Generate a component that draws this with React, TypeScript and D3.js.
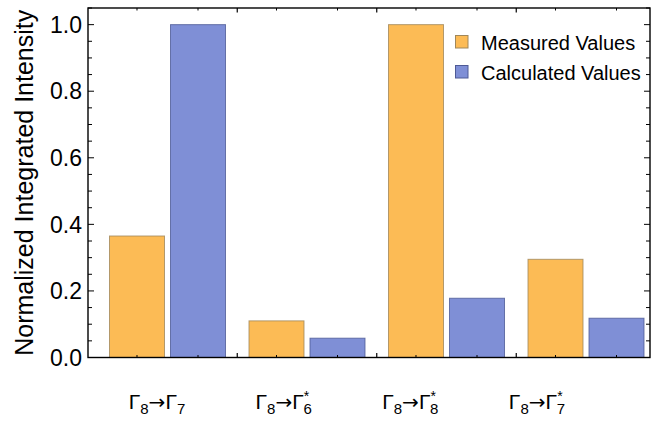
import React from "react";
import * as d3 from "d3";

const categories = ["G1", "G2", "G3", "G4"];
const fromSub = ["8", "8", "8", "8"];
const toSub = ["7", "6", "8", "7"];
const toStar = [false, true, true, true];
const seriesNames = ["Measured Values", "Calculated Values"];
const measured = [0.365, 0.11, 1.0, 0.295];
const calculated = [1.0, 0.058, 0.178, 0.118];
const yMajorTicks = [0, 0.2, 0.4, 0.6, 0.8, 1.0];
const yMinorTicks = d3.range(0, 1.051, 0.05);

const W = 659, H = 422;
const frame = { left: 88, right: 650, top: 8, bottom: 357.5 };
const fills = ["#FCBB55", "#7F8FD6"];
const edges = ["#A0875A", "#4E5A96"];
const FONT = "'Liberation Sans', Arial, Helvetica, sans-serif";

export default function App() {
  const y = d3.scaleLinear().domain([0, 1.05]).range([frame.bottom, frame.top]);
  const x0 = d3.scaleBand<string>().domain(categories).range([97.75, 655.75]).paddingInner(0).paddingOuter(0);
  const x1 = d3.scaleBand<string>().domain(seriesNames).range([11.75, 127.75]).paddingInner(0.0984).paddingOuter(0);
  const xl = d3.scalePoint<string>().domain(categories).range([157, 537]);
  const data = [measured, calculated];

  const barCenters: number[] = [];
  categories.forEach((c) => seriesNames.forEach((s) => barCenters.push(x0(c)! + x1(s)! + x1.bandwidth() / 2)));
  const boundaries = categories.slice(1).map((c) => x0(c)!);

  return (
    <svg width={W} height={H} style={{ position: "absolute", left: 0, top: 0, background: "#fff" }} fontFamily={FONT}>
      {/* bars */}
      {categories.map((c, i) =>
        seriesNames.map((s, k) => {
          const v = data[k][i];
          return (
            <rect key={c + s} x={x0(c)! + x1(s)!} y={y(v)} width={x1.bandwidth()} height={y(0) - y(v)}
              fill={fills[k]} stroke={edges[k]} strokeWidth={1} strokeOpacity={0.8} />
          );
        })
      )}
      {/* frame */}
      <rect x={frame.left} y={frame.top} width={frame.right - frame.left} height={frame.bottom - frame.top}
        fill="none" stroke="#000" strokeWidth={1.4} />
      {/* y ticks */}
      {yMinorTicks.map((t) => {
        const major = yMajorTicks.some((m) => Math.abs(m - t) < 1e-6);
        const len = major ? 6 : 4;
        return (
          <g key={"yt" + t}>
            <line x1={frame.left} x2={frame.left + len} y1={y(t)} y2={y(t)} stroke="#000" strokeWidth={1} />
            <line x1={frame.right} x2={frame.right - len} y1={y(t)} y2={y(t)} stroke="#000" strokeWidth={1} />
          </g>
        );
      })}
      {yMajorTicks.map((t) => (
        <text key={"yl" + t} x={82} y={y(t)} dy="0.36em" textAnchor="end" fontSize={23} fill="#000">
          {t.toFixed(1)}
        </text>
      ))}
      {/* x ticks */}
      {barCenters.map((xc, i) => (
        <g key={"xc" + i}>
          <line x1={xc} x2={xc} y1={frame.bottom} y2={frame.bottom - 2.5} stroke="#000" strokeWidth={1} />
          <line x1={xc} x2={xc} y1={frame.top} y2={frame.top + 2.5} stroke="#000" strokeWidth={1} />
        </g>
      ))}
      {boundaries.map((xb, i) => (
        <g key={"xb" + i}>
          <line x1={xb} x2={xb} y1={frame.bottom} y2={frame.bottom - 4.5} stroke="#000" strokeWidth={1.2} />
          <line x1={xb} x2={xb} y1={frame.top} y2={frame.top + 4.5} stroke="#000" strokeWidth={1.2} />
        </g>
      ))}
      {/* x labels */}
      {categories.map((c, i) => (
        <text key={"xl" + c} x={xl(c)} y={409} textAnchor="middle" fontSize={21} fill="#000">
          <tspan>Γ</tspan>
          <tspan dy={5} fontSize={15}>{fromSub[i]}</tspan>
          <tspan dy={-5} fontFamily="'DejaVu Sans', sans-serif" fontSize={20}>→</tspan>
          <tspan>Γ</tspan>
          {toStar[i] ? (
            <>
              <tspan dy={-8} fontSize={14}>*</tspan>
              <tspan dx={-5.8} dy={13} fontSize={15}>{toSub[i]}</tspan>
            </>
          ) : (
            <tspan dy={5} fontSize={15}>{toSub[i]}</tspan>
          )}
        </text>
      ))}
      {/* y title */}
      <text transform={`translate(33,${(frame.top + frame.bottom) / 2}) rotate(-90)`} textAnchor="middle" fontSize={25} fill="#000">
        Normalized Integrated Intensity
      </text>
      {/* legend */}
      {seriesNames.map((s, k) => (
        <g key={"lg" + s}>
          <rect x={455.5} y={35.5 + k * 30} width={12.5} height={12.5} fill={fills[k]} stroke={edges[k]} strokeWidth={1} />
          <text x={481} y={50 + k * 30} fontSize={20} fill="#000">{s}</text>
        </g>
      ))}
    </svg>
  );
}
